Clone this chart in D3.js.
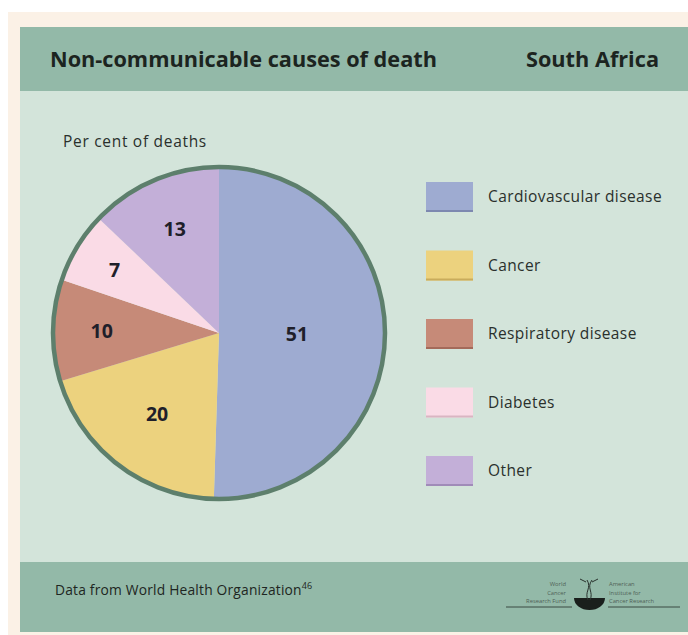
<!DOCTYPE html>
<html>
<head>
<meta charset="utf-8">
<script src="https://cdn.jsdelivr.net/npm/d3@7"></script>
<style>
  html, body { margin: 0; padding: 0; background: #ffffff; }
  svg { display: block; }
</style>
</head>
<body>
<svg id="chart" width="688" height="635"></svg>
<script>
// Non-communicable causes of death, South Africa (per cent of deaths)
const categories = ["Cardiovascular disease", "Cancer", "Respiratory disease", "Diabetes", "Other"];
const values = [51, 20, 10, 7, 13];
const colors = ["#9eabd1", "#ecd27e", "#c68a78", "#fadbe6", "#c3afd8"];
const edgeColors = ["#7d88b0", "#c9ac5c", "#a46a5a", "#d9b5c2", "#a08bb8"];

const titleText = "Non-communicable causes of death";
const countryText = "South Africa";
const subtitleText = "Per cent of deaths";
const sourceText = "Data from World Health Organization";
const sourceRef = "46";
const logoLeft = ["World", "Cancer", "Research Fund"];
const logoRight = ["American", "Institute for", "Cancer Research"];

const W = 688, H = 635;
const svg = d3.select("#chart");
const font = "'Open Sans', 'Noto Sans', sans-serif";

// page and panel backgrounds
svg.append("rect").attr("x", 0).attr("y", 0).attr("width", W).attr("height", H).attr("fill", "#ffffff");
svg.append("rect").attr("x", 8).attr("y", 12).attr("width", W - 8).attr("height", H - 12).attr("fill", "#fbf1e6");
svg.append("rect").attr("x", 20).attr("y", 27).attr("width", W - 20).attr("height", 605).attr("fill", "#d3e4da");

// header band
svg.append("rect").attr("x", 20).attr("y", 27).attr("width", W - 20).attr("height", 64).attr("fill", "#93b9a8");
svg.append("text").attr("x", 50).attr("y", 67)
  .attr("font-family", font).attr("font-weight", 700).attr("font-size", 21.7)
  .attr("fill", "#1c2420").text(titleText);
svg.append("text").attr("x", 659).attr("y", 67).attr("text-anchor", "end")
  .attr("font-family", font).attr("font-weight", 700).attr("font-size", 21.7)
  .attr("fill", "#1c2420").text(countryText);

// footer band
svg.append("rect").attr("x", 20).attr("y", 562).attr("width", W - 20).attr("height", 70).attr("fill", "#93b9a8");
const src = svg.append("text").attr("x", 55).attr("y", 595)
  .attr("font-family", font).attr("font-size", 13.8).attr("letter-spacing", 0.2).attr("fill", "#1e2622");
src.append("tspan").text(sourceText);
src.append("tspan").attr("font-size", 9).attr("dy", -6).attr("letter-spacing", 0).text(sourceRef);

// subtitle
svg.append("text").attr("x", 63).attr("y", 147)
  .attr("font-family", font).attr("font-size", 15.5).attr("letter-spacing", 0.7)
  .attr("fill", "#2a302c").text(subtitleText);

// pie
const cx = 219, cy = 333, r = 166;
const pie = d3.pie().sort(null).value(d => d.value);
const data = categories.map((c, i) => ({ name: c, value: values[i], color: colors[i] }));
const arcs = pie(data);
const arc = d3.arc().innerRadius(0).outerRadius(r);
const g = svg.append("g").attr("transform", `translate(${cx},${cy})`);

g.selectAll("path.slice").data(arcs).join("path")
  .attr("class", "slice")
  .attr("d", arc)
  .attr("fill", d => d.data.color);

g.append("circle").attr("r", r).attr("fill", "none")
  .attr("stroke", "#5d7f6c").attr("stroke-width", 4.5);

// value labels: narrow slices are labelled further out, the half-pie slice nearer the centre
const labelPos = d => {
  const span = d.endAngle - d.startAngle;
  const lr = r * (span > Math.PI ? 0.47 : 0.8 - 0.15 * span);
  return d3.arc().innerRadius(lr).outerRadius(lr).centroid(d);
};
g.selectAll("text.val").data(arcs).join("text")
  .attr("class", "val")
  .attr("x", d => labelPos(d)[0])
  .attr("y", d => labelPos(d)[1])
  .attr("dy", "0.35em")
  .attr("text-anchor", "middle")
  .attr("font-family", font).attr("font-weight", 700).attr("font-size", 19.5)
  .attr("fill", "#1f1f2a")
  .text(d => d.data.value);

// legend
const legendY = d3.scalePoint().domain(categories).range([197, 471]);
const lg = svg.append("g");
const items = lg.selectAll("g.item").data(data).join("g")
  .attr("class", "item")
  .attr("transform", d => `translate(426,${legendY(d.name)})`);
items.append("rect").attr("x", 0).attr("y", -15).attr("width", 47).attr("height", 30)
  .attr("fill", d => d.color);
items.append("rect").attr("x", 0).attr("y", 13).attr("width", 47).attr("height", 2)
  .attr("fill", (d, i) => edgeColors[i]);
items.append("text").attr("x", 62).attr("y", 0).attr("dy", "0.35em")
  .attr("font-family", font).attr("font-size", 15.5).attr("letter-spacing", 0.4)
  .attr("fill", "#2a302c")
  .text(d => d.name);

// logo block in the footer
const logo = svg.append("g").attr("font-family", font).attr("font-size", 5.8).attr("fill", "#4f5f56");
logoLeft.forEach((t, i) =>
  logo.append("text").attr("x", 566).attr("y", 586 + i * 8.5).attr("text-anchor", "end").text(t));
logoRight.forEach((t, i) =>
  logo.append("text").attr("x", 609).attr("y", 586 + i * 8.5).text(t));
logo.append("line").attr("x1", 506).attr("x2", 572).attr("y1", 607).attr("y2", 607)
  .attr("stroke", "#3b4a42").attr("stroke-width", 1);
logo.append("line").attr("x1", 608).attr("x2", 680).attr("y1", 607).attr("y2", 607)
  .attr("stroke", "#3b4a42").attr("stroke-width", 1);
logo.append("path").attr("d", "M574,598 L605,598 A15.5,12 0 0 1 574,598 Z").attr("fill", "#1a1f1c");
logo.append("path").attr("d", "M588,600 C584,592 592,588 587,580 M590,600 C594,592 586,588 592,580 M586,582 L580,579 M592,582 L598,579")
  .attr("fill", "none").attr("stroke", "#2a332e").attr("stroke-width", 1);
</script>
</body>
</html>
